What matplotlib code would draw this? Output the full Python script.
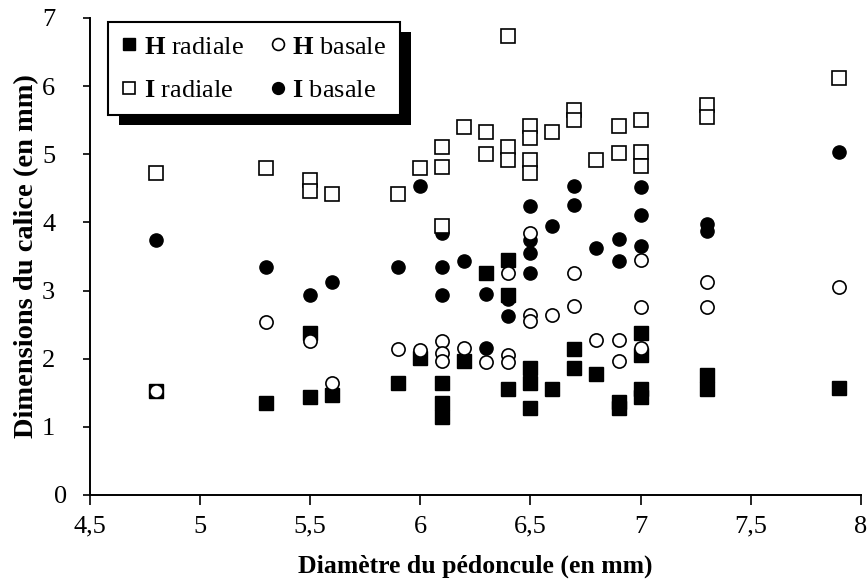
import matplotlib
matplotlib.use("Agg")
import matplotlib.pyplot as plt
from matplotlib.patches import Rectangle
from matplotlib.transforms import ScaledTranslation

plt.rcParams['font.family'] = ['Liberation Serif', 'DejaVu Serif']
plt.rcParams['mathtext.fontset'] = 'custom'
plt.rcParams['mathtext.bf'] = 'Liberation Serif:bold'
plt.rcParams['mathtext.rm'] = 'Liberation Serif'

# ---- data ----
h_rad_x = [4.8, 5.3, 5.5, 5.5, 5.6, 5.9, 6.0, 6.1, 6.1, 6.1, 6.2, 6.3, 6.4, 6.4, 6.4,
           6.5, 6.5, 6.5, 6.6, 6.7, 6.7, 6.8, 6.9, 6.9, 7.0, 7.0, 7.0, 7.0, 7.3, 7.3, 7.9]
h_rad_y = [1.53, 1.35, 2.37, 1.44, 1.46, 1.64, 2.01, 1.64, 1.35, 1.15, 1.97, 3.26, 3.45, 2.93, 1.56,
           1.86, 1.65, 1.28, 1.56, 2.14, 1.86, 1.78, 1.36, 1.28, 2.37, 2.06, 1.56, 1.44, 1.76, 1.55, 1.57]

h_bas_x = [4.8, 5.3, 5.5, 5.6, 5.9, 6.0, 6.1, 6.1, 6.1, 6.2, 6.3, 6.4, 6.4, 6.4,
           6.5, 6.5, 6.5, 6.6, 6.7, 6.7, 6.8, 6.9, 6.9, 7.0, 7.0, 7.0, 7.3, 7.3, 7.9]
h_bas_y = [1.53, 2.54, 2.26, 1.65, 2.14, 2.13, 2.26, 2.08, 1.97, 2.16, 1.95, 3.26, 2.06, 1.95,
           3.85, 2.64, 2.56, 2.64, 3.26, 2.78, 2.28, 2.28, 1.96, 3.45, 2.76, 2.16, 3.13, 2.76, 3.05]

i_rad_x = [4.8, 5.3, 5.5, 5.5, 5.6, 5.9, 6.0, 6.1, 6.1, 6.1, 6.2, 6.3, 6.3, 6.4, 6.4, 6.4,
           6.5, 6.5, 6.5, 6.5, 6.6, 6.7, 6.7, 6.8, 6.9, 6.9, 7.0, 7.0, 7.0, 7.3, 7.3, 7.9]
i_rad_y = [4.73, 4.80, 4.62, 4.46, 4.42, 4.41, 4.80, 5.10, 4.82, 3.94, 5.40, 5.33, 5.01, 6.74, 5.11, 4.91,
           5.42, 5.24, 4.91, 4.73, 5.32, 5.65, 5.50, 4.92, 5.41, 5.02, 5.50, 5.03, 4.83, 5.73, 5.54, 6.12]

i_bas_x = [4.8, 5.3, 5.5, 5.6, 5.9, 6.0, 6.1, 6.1, 6.1, 6.2, 6.3, 6.3, 6.4, 6.4,
           6.5, 6.5, 6.5, 6.5, 6.6, 6.7, 6.7, 6.8, 6.9, 6.9, 7.0, 7.0, 7.0, 7.3, 7.3, 7.9]
i_bas_y = [3.74, 3.34, 2.94, 3.12, 3.35, 4.53, 3.84, 3.35, 2.94, 3.43, 2.95, 2.16, 2.88, 2.63,
           4.24, 3.74, 3.55, 3.26, 3.94, 4.54, 4.26, 3.62, 3.76, 3.44, 4.52, 4.11, 3.65, 3.97, 3.87, 5.03]

x_ticks = [4.5, 5, 5.5, 6, 6.5, 7, 7.5, 8]
x_tick_labels = ["4,5", "5", "5,5", "6", "6,5", "7", "7,5", "8"]
y_ticks = [0, 1, 2, 3, 4, 5, 6, 7]

labels = [r"$\mathbf{H}$ radiale", r"$\mathbf{H}$ basale",
          r"$\mathbf{I}$ radiale", r"$\mathbf{I}$ basale"]

# ---- figure ----
fig = plt.figure(figsize=(8.67, 5.8), dpi=100)
ax = fig.add_axes([0.1038, 0.1466, 0.889, 0.8224])

ms = 9.5
l_hr, = ax.plot(h_rad_x, h_rad_y, ls='none', marker='s', ms=ms, mfc='black', mec='black',
                mew=1, zorder=3)
l_ib, = ax.plot(i_bas_x, i_bas_y, ls='none', marker='o', ms=ms, mfc='black', mec='black',
                mew=1, zorder=4)
l_ir, = ax.plot(i_rad_x, i_rad_y, ls='none', marker='s', ms=ms, mfc='white', mec='black',
                mew=1.2, zorder=5)
l_hb, = ax.plot(h_bas_x, h_bas_y, ls='none', marker='o', ms=ms, mfc='white', mec='black',
                mew=1.2, zorder=6)

ax.set_xlim(4.5, 8)
ax.set_ylim(0, 7)
ax.set_xticks(x_ticks)
ax.set_xticklabels(x_tick_labels)
ax.set_yticks(y_ticks)
ax.tick_params(axis='both', labelsize=19, direction='out', width=1.2, colors='black')
ax.tick_params(axis='x', length=7, pad=8)
ax.tick_params(axis='y', length=5, pad=20)
for s in ['top', 'right']:
    ax.spines[s].set_visible(False)
for s in ['left', 'bottom']:
    ax.spines[s].set_linewidth(1.4)

ax.set_xlabel("Diamètre du pédoncule (en mm)", fontsize=18.5, fontweight='bold', labelpad=12)
ax.set_ylabel("Dimensions du calice (en mm)", fontsize=20.5, fontweight='bold', labelpad=2)

# nudge the "0" label right, as in the reference
zero_lbl = ax.get_yticklabels()[0]
zero_lbl.set_transform(zero_lbl.get_transform() + ScaledTranslation(12 / 100, 0, fig.dpi_scale_trans))

ax_w = 0.889 * 867
ax_h = 0.8224 * 580
leg = ax.legend([l_hr, l_ir, l_hb, l_ib], [labels[0], labels[2], labels[1], labels[3]],
                ncol=2, loc='upper left', bbox_to_anchor=(18 / ax_w, 1 - 4 / ax_h),
                borderaxespad=0, fontsize=19,
                frameon=True, fancybox=False, edgecolor='black', framealpha=1,
                handlelength=0.6, handletextpad=0.25, columnspacing=1.0,
                labelspacing=0.75, borderpad=0.5, markerscale=0.9)
leg.get_frame().set_linewidth(1.5)
leg.set_zorder(10)

fig.canvas.draw()
bb = leg.get_window_extent().transformed(ax.transAxes.inverted())
dx = 11 / ax.get_window_extent().width
dy = 10 / ax.get_window_extent().height
shadow = Rectangle((bb.x0 + dx, bb.y0 - dy), bb.width, bb.height, transform=ax.transAxes,
                   facecolor='black', edgecolor='none', zorder=9, clip_on=False)
ax.add_patch(shadow)

fig.savefig("out.png", dpi=100)
